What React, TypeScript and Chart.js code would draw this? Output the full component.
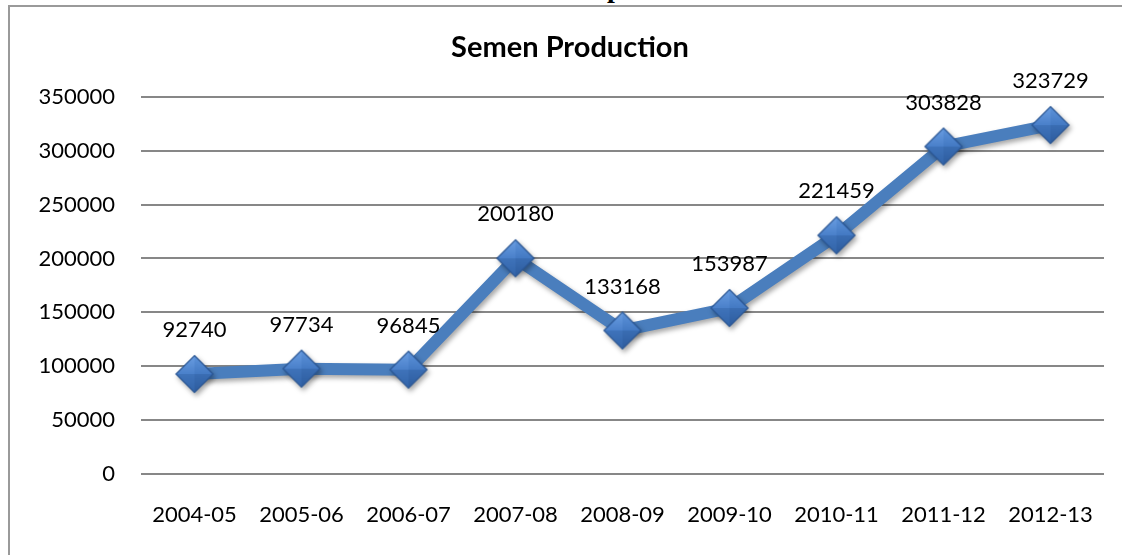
import { useEffect, useRef } from 'react';
import { Chart, registerables } from 'chart.js';

Chart.register(...registerables);

const categories = ['2004-05', '2005-06', '2006-07', '2007-08', '2008-09', '2009-10', '2010-11', '2011-12', '2012-13'];
const production = [92740, 97734, 96845, 200180, 133168, 153987, 221459, 303828, 323729];
const yMin = 0;
const yMax = 350000;
const yStep = 50000;
const chartTitle = 'Semen Production';

const FONT = 'Lato, "Open Sans", sans-serif';

function makeDiamond(): HTMLCanvasElement {
  const c = document.createElement('canvas');
  const s = 44;
  c.width = s;
  c.height = s;
  const ctx = c.getContext('2d')!;
  const cx = s / 2;
  const cy = s / 2;
  const r = 18.5;
  const T = [cx, cy - r];
  const R = [cx + r, cy];
  const B = [cx, cy + r];
  const L = [cx - r, cy];
  const C = [cx, cy];
  const tri = (a: number[], b: number[], d: number[], fill: string | CanvasGradient) => {
    ctx.beginPath();
    ctx.moveTo(a[0], a[1]);
    ctx.lineTo(b[0], b[1]);
    ctx.lineTo(d[0], d[1]);
    ctx.closePath();
    ctx.fillStyle = fill;
    ctx.fill();
  };
  const gTop = ctx.createLinearGradient(0, cy - r, 0, cy);
  gTop.addColorStop(0, '#6A9EE2');
  gTop.addColorStop(1, '#4A80CA');
  const gTop2 = ctx.createLinearGradient(0, cy - r, 0, cy);
  gTop2.addColorStop(0, '#5E94DA');
  gTop2.addColorStop(1, '#4379C3');
  const gBot = ctx.createLinearGradient(0, cy, 0, cy + r);
  gBot.addColorStop(0, '#3F73BA');
  gBot.addColorStop(1, '#3264A9');
  const gBot2 = ctx.createLinearGradient(0, cy, 0, cy + r);
  gBot2.addColorStop(0, '#3A6DB3');
  gBot2.addColorStop(1, '#2D5C9E');
  tri(L, T, C, gTop);
  tri(T, R, C, gTop2);
  tri(L, C, B, gBot);
  tri(C, R, B, gBot2);
  ctx.beginPath();
  ctx.moveTo(T[0], T[1]);
  ctx.lineTo(R[0], R[1]);
  ctx.lineTo(B[0], B[1]);
  ctx.lineTo(L[0], L[1]);
  ctx.closePath();
  ctx.lineWidth = 1.2;
  ctx.strokeStyle = '#2A5694';
  ctx.stroke();
  return c;
}

const shadowPlugin = {
  id: 'lineShadow',
  beforeDatasetDraw(chart: any) {
    const ctx = chart.ctx;
    ctx.save();
    ctx.shadowColor = 'rgba(0,0,0,0.35)';
    ctx.shadowBlur = 5;
    ctx.shadowOffsetX = 2;
    ctx.shadowOffsetY = 3;
  },
  afterDatasetDraw(chart: any) {
    chart.ctx.restore();
  },
};

const labelPlugin = {
  id: 'pointValueLabels',
  afterDatasetsDraw(chart: any) {
    const meta = chart.getDatasetMeta(0);
    const ctx = chart.ctx;
    ctx.save();
    ctx.font = `22px ${FONT}`;
    ctx.fillStyle = '#000000';
    ctx.textAlign = 'center';
    ctx.textBaseline = 'middle';
    meta.data.forEach((pt: any, i: number) => {
      ctx.fillText(String(chart.data.datasets[0].data[i]), pt.x, pt.y - 44);
    });
    ctx.restore();
  },
};

export default function App() {
  const ref = useRef<HTMLCanvasElement | null>(null);

  useEffect(() => {
    if (!ref.current) return;
    const diamond = makeDiamond();
    const chart = new Chart(ref.current, {
      type: 'line',
      data: {
        labels: categories,
        datasets: [
          {
            data: production,
            borderColor: '#4A7EBD',
            borderWidth: 12,
            pointStyle: diamond as any,
            pointRadius: 19,
            tension: 0,
            fill: false,
          },
        ],
      },
      options: {
        responsive: false,
        animation: false,
        layout: { autoPadding: false, padding: { left: 36, right: 18, top: 0, bottom: 0 } },
        plugins: {
          legend: { display: false },
          tooltip: { enabled: false },
          title: {
            display: true,
            text: chartTitle,
            color: '#000000',
            font: { family: FONT, size: 29, weight: 'bold', lineHeight: 1.2 },
            padding: { top: 30, bottom: 32 },
          },
        },
        scales: {
          x: {
            offset: true,
            grid: { display: false },
            border: { display: false },
            ticks: { color: '#000000', font: { family: FONT, size: 22 }, padding: 20, maxRotation: 0, autoSkip: false },
            afterFit: (scale: any) => {
              scale.height = 81;
            },
          },
          y: {
            min: yMin,
            max: yMax,
            grid: { color: '#878787', lineWidth: 2, drawTicks: false },
            border: { display: false },
            ticks: {
              stepSize: yStep,
              color: '#000000',
              font: { family: FONT, size: 22 },
              padding: 26,
              callback: (v: any) => String(v),
            },
            afterFit: (scale: any) => {
              scale.width = 105;
            },
          },
        },
      },
      plugins: [shadowPlugin, labelPlugin],
    });
    return () => chart.destroy();
  }, []);

  return (
    <div style={{ position: 'fixed', left: 0, top: 0, width: 1122, height: 555, background: '#ffffff', overflow: 'hidden' }}>
      <div
        style={{
          position: 'absolute',
          left: 607,
          top: -29,
          fontFamily: '"Liberation Serif", serif',
          fontWeight: 'bold',
          fontSize: 28,
          lineHeight: '34px',
          color: '#000',
        }}
      >
        p
      </div>
      <div
        style={{
          position: 'absolute',
          left: 8,
          top: 5,
          width: 1130,
          height: 560,
          borderTop: '2px solid #9a9a9a',
          borderLeft: '2px solid #9a9a9a',
          boxSizing: 'border-box',
        }}
      />
      <canvas ref={ref} width={1122} height={555} style={{ position: 'absolute', left: 0, top: 0 }} />
    </div>
  );
}
